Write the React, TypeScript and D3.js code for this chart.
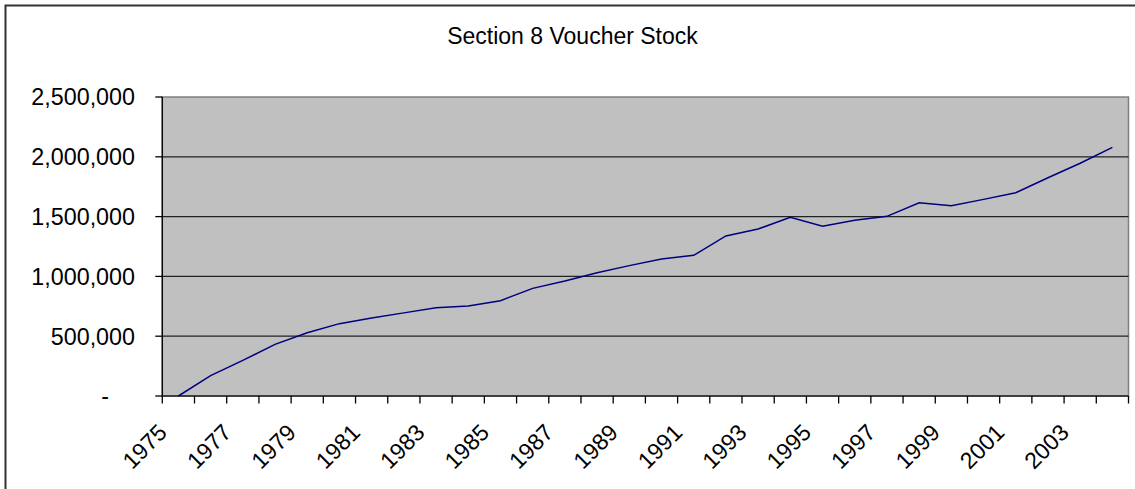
import React from "react";
import * as d3 from "d3";

const years: string[] = [
  "1975","1976","1977","1978","1979","1980","1981","1982","1983","1984",
  "1985","1986","1987","1988","1989","1990","1991","1992","1993","1994",
  "1995","1996","1997","1998","1999","2000","2001","2002","2003","2004",
];
const voucherStock: number[] = [
  0, 170000, 298000, 432000, 529000, 605000, 652000, 695000, 738000, 752000,
  797000, 900000, 961000, 1031000, 1090000, 1145000, 1176000, 1338000, 1396000, 1494000,
  1419000, 1469000, 1502000, 1616000, 1591000, 1644000, 1700000, 1825000, 1946000, 2079000,
];
const yTickValues: number[] = [0, 500000, 1000000, 1500000, 2000000, 2500000];
const yTickLabels: string[] = ["-", "500,000", "1,000,000", "1,500,000", "2,000,000", "2,500,000"];
const title = "Section 8 Voucher Stock";

const W = 1135;
const H = 489;
const plot = { left: 162.3, right: 1128.5, top: 97, bottom: 396 };
const FONT = "'Liberation Sans', Arial, sans-serif";

export default function App() {
  const x = d3.scaleBand<string>().domain(years).range([plot.left, plot.right]).padding(0);
  const y = d3.scaleLinear().domain([0, 2500000]).range([plot.bottom, plot.top]);
  const bw = x.bandwidth();
  const line = d3
    .line<number>()
    .x((_, i) => (x(years[i]) as number) + bw / 2)
    .y((d) => y(d));

  const boundaries = d3.range(years.length + 1).map((i) => plot.left + i * bw);

  return (
    <svg
      width={W}
      height={H}
      style={{ position: "absolute", left: 0, top: 0, background: "#fff" }}
      fontFamily={FONT}
    >
      <rect x={5.5} y={5.5} width={1160} height={520} fill="#fff" stroke="#333" strokeWidth={2} />
      <text x={572.5} y={43.5} textAnchor="middle" fontSize={23} fill="#000">
        {title}
      </text>
      <rect
        x={plot.left}
        y={plot.top}
        width={plot.right - plot.left}
        height={plot.bottom - plot.top}
        fill="#c0c0c0"
        stroke="#808080"
        strokeWidth={1.5}
      />
      {yTickValues.slice(1, -1).map((v) => (
        <line key={v} x1={plot.left} x2={plot.right} y1={y(v)} y2={y(v)} stroke="#222" strokeWidth={1.3} />
      ))}
      {/* y axis */}
      <line x1={plot.left} x2={plot.left} y1={plot.top} y2={plot.bottom} stroke="#000" strokeWidth={1.3} />
      {yTickValues.map((v, i) => (
        <g key={v}>
          <line x1={plot.left - 7} x2={plot.left} y1={y(v)} y2={y(v)} stroke="#000" strokeWidth={1.3} />
          <text
            x={i === 0 ? 109 : 135}
            y={y(v)}
            dy="0.36em"
            textAnchor="end"
            fontSize={23.3}
            fill="#000"
          >
            {yTickLabels[i]}
          </text>
        </g>
      ))}
      {/* x axis */}
      <line x1={plot.left} x2={plot.right} y1={plot.bottom} y2={plot.bottom} stroke="#222" strokeWidth={1.5} />
      {boundaries.map((bx, i) => (
        <line key={i} x1={bx} x2={bx} y1={plot.bottom} y2={plot.bottom + 7.5} stroke="#000" strokeWidth={1.3} />
      ))}
      {years.map((yr, i) =>
        i % 2 === 0 ? (
          <text
            key={yr}
            transform={`translate(${(x(yr) as number) + bw / 2 - 10},${plot.bottom + 38}) rotate(-45)`}
            textAnchor="end"
            fontSize={23}
            fill="#000"
          >
            {yr}
          </text>
        ) : null
      )}
      <path d={line(voucherStock) || ""} fill="none" stroke="#000080" strokeWidth={1.5} />
    </svg>
  );
}
